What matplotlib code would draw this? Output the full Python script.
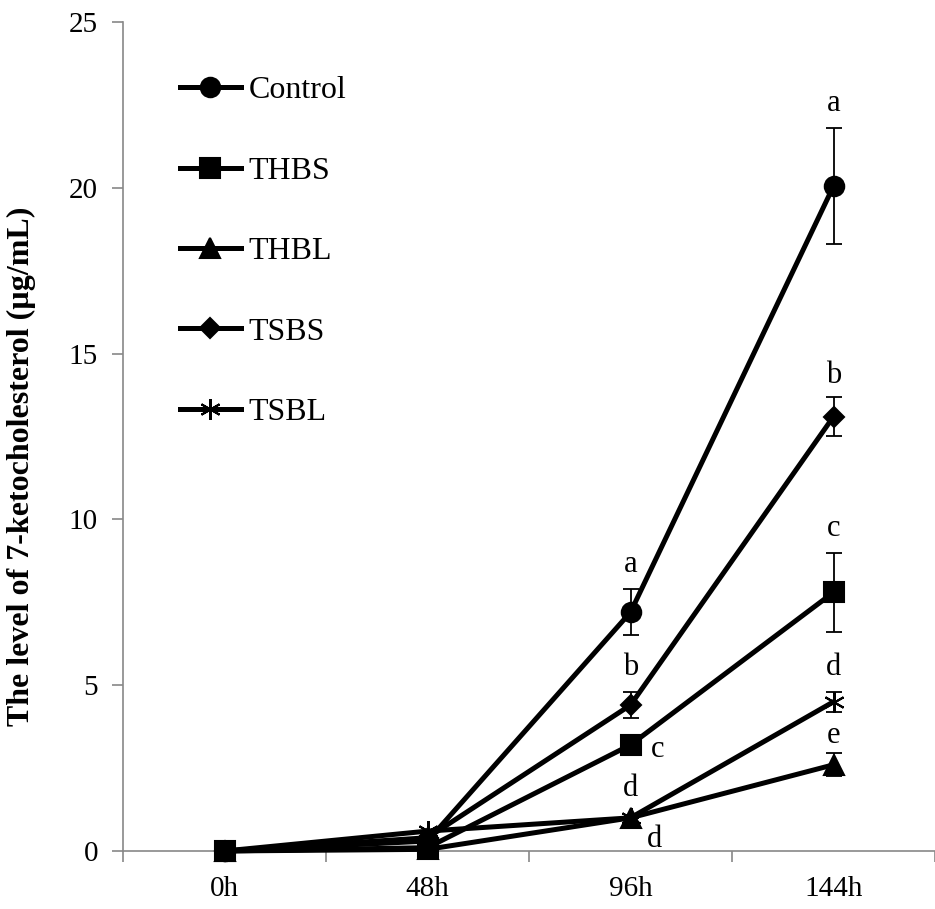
import numpy as np
import matplotlib.pyplot as plt
from matplotlib.lines import Line2D

plt.rcParams['font.family'] = ['Liberation Serif', 'DejaVu Serif']

# ─── Data ─────────────────────────────────────────────────────────────────────
times = ['0h', '48h', '96h', '144h']

control = [0.0, 0.3, 7.2, 20.05]
control_err = [0.0, 0.0, 0.7, 1.75]
thbs = [0.0, 0.1, 3.2, 7.8]
thbs_err = [0.0, 0.0, 0.0, 1.2]
thbl = [0.0, 0.05, 1.0, 2.6]
thbl_err = [0.0, 0.0, 0.0, 0.35]
tsbs = [0.0, 0.4, 4.4, 13.1]
tsbs_err = [0.0, 0.0, 0.4, 0.6]
tsbl = [0.0, 0.6, 1.0, 4.5]
tsbl_err = [0.0, 0.0, 0.0, 0.3]

series = [
    ('Control', control, control_err, 'o', 14),
    ('THBS', thbs, thbs_err, 's', 14),
    ('THBL', thbl, thbl_err, '^', 14),
    ('TSBS', tsbs, tsbs_err, 'D', 10),
    ('TSBL', tsbl, tsbl_err, (6, 2, 0), 15),
]

# ─── Figure ───────────────────────────────────────────────────────────────────
fig = plt.figure(figsize=(9.35, 9.09), dpi=100)
ax = fig.add_axes([123 / 935, (909 - 851) / 909, (935 - 123) / 935, (851 - 22) / 909])

x = np.arange(len(times))
handles = []
for name, vals, err, mk, ms in series:
    ax.errorbar(x, vals, yerr=err, fmt='none', ecolor='black',
                elinewidth=1.3, capsize=5.5, capthick=1.3, zorder=2)
    ax.plot(x, vals, color='black', lw=3.6, marker=mk, ms=ms, mew=1.5,
            clip_on=False, zorder=3)
    handles.append(Line2D([], [], color='black', lw=3.6, marker=mk, ms=ms,
                          mew=1.5, label=name))

lfs = 22
# letters at 96h
ax.text(2, 7.9 + 0.3, 'a', ha='center', va='bottom', fontsize=lfs)
ax.text(2, 4.8 + 0.3, 'b', ha='center', va='bottom', fontsize=lfs)
ax.text(2.1, 3.05, 'c', ha='left', va='center', fontsize=lfs)
ax.text(2, 1.45, 'd', ha='center', va='bottom', fontsize=lfs)
ax.text(2.08, 0.35, 'd', ha='left', va='center', fontsize=lfs)
# letters at 144h
ax.text(3, 21.8 + 0.3, 'a', ha='center', va='bottom', fontsize=lfs)
ax.text(3, 13.7 + 0.2, 'b', ha='center', va='bottom', fontsize=lfs)
ax.text(3, 9.0 + 0.3, 'c', ha='center', va='bottom', fontsize=lfs)
ax.text(3, 4.8 + 0.3, 'd', ha='center', va='bottom', fontsize=lfs)
ax.text(3, 3.0 + 0.05, 'e', ha='center', va='bottom', fontsize=lfs)

ax.set_xlim(-0.5, 3.5 - 8 / 205)
ax.set_ylim(0, 25)
ax.set_yticks([0, 5, 10, 15, 20, 25])
ax.set_xticks(x)
ax.set_xticklabels(times)
ax.set_xticks(np.arange(-0.5, 3.6, 1), minor=True)
ax.tick_params(axis='x', which='major', length=0, labelsize=21, pad=18)
ax.tick_params(axis='x', which='minor', length=8, color='#888888', width=1.2)
ax.tick_params(axis='y', length=8, color='#888888', width=1.2, labelsize=21, pad=10)

for side in ['top', 'right']:
    ax.spines[side].set_visible(False)
for side in ['left', 'bottom']:
    ax.spines[side].set_color('#888888')
    ax.spines[side].set_linewidth(1.2)

ax.set_ylabel('The level of 7-ketocholesterol (µg/mL)', fontsize=23,
              fontweight='bold')
ax.yaxis.set_label_coords(-(123 - 36) / 812, (851 - 466) / 829)

ax.legend(handles=handles, loc='upper left', bbox_to_anchor=(0.07, 0.935),
          frameon=False, fontsize=23, handlelength=1.9, handletextpad=0.25,
          labelspacing=1.6, borderaxespad=0, borderpad=0)

fig.savefig('out.png', dpi=100)
